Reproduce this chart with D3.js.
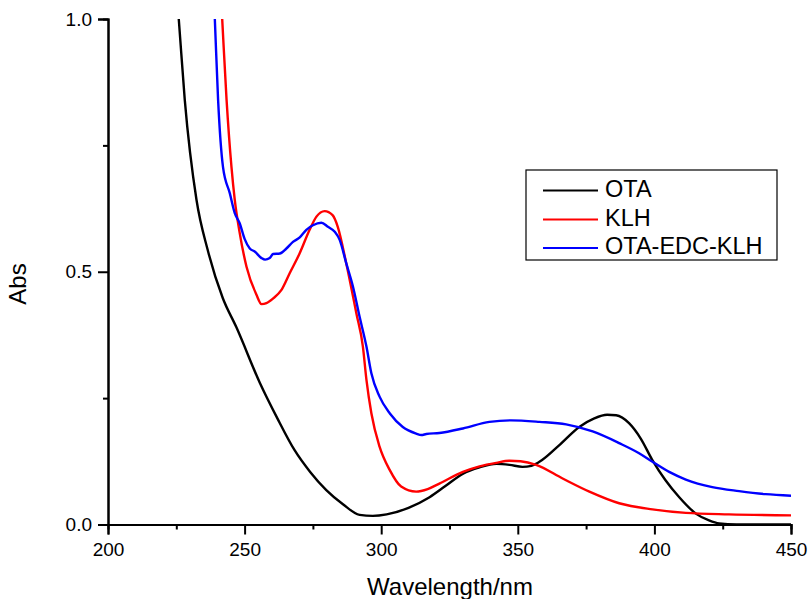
<!DOCTYPE html>
<html>
<head>
<meta charset="utf-8">
<script src="https://cdn.jsdelivr.net/npm/d3@7"></script>
<style>
  body { margin: 0; background: #fff; }
  text { font-family: Arial, "Liberation Sans", sans-serif; }
</style>
</head>
<body>
<div id="chart"></div>
<script>
// Spectra (wavelength in nm, absorbance)
const otaWl  = [222, 225.9, 228.1, 232.4, 236.5, 242.0, 247.0, 255.6, 262, 268.3, 274, 279.9, 286, 292.1, 296.9, 302, 310, 317.7, 323.5, 329.8, 336, 342.2, 347, 351.7, 355, 359, 365, 372.5, 378, 382.7, 386, 390.8, 395, 399.2, 404, 409.1, 415.3, 420, 423.7, 430, 450];
const otaAbs = [1.25, 1.0, 0.84, 0.642, 0.543, 0.448, 0.39, 0.28, 0.21, 0.147, 0.104, 0.068, 0.04, 0.019, 0.017, 0.02, 0.033, 0.054, 0.076, 0.10, 0.113, 0.12, 0.118, 0.114, 0.116, 0.128, 0.156, 0.193, 0.21, 0.217, 0.216, 0.2, 0.17, 0.128, 0.088, 0.054, 0.021, 0.008, 0.002, 0, 0];

const klhWl  = [240, 241.8, 243.4, 245.2, 246.4, 248.2, 250.7, 254.3, 256.2, 258, 260.4, 263.5, 266.5, 270.2, 273.8, 276.3, 279.3, 282.2, 284.1, 287.2, 290.9, 293.3, 294.6, 296.4, 299.4, 303.1, 307.3, 312.8, 317, 321.3, 329.9, 336, 342.1, 346.9, 351, 356.7, 366.4, 376.2, 387.1, 399.3, 411.5, 427.3, 450];
const klhAbs = [1.18, 1.0, 0.84, 0.707, 0.642, 0.577, 0.51, 0.455, 0.436, 0.438, 0.447, 0.464, 0.497, 0.537, 0.583, 0.609, 0.62, 0.612, 0.589, 0.517, 0.418, 0.352, 0.286, 0.22, 0.154, 0.108, 0.075, 0.065, 0.07, 0.081, 0.104, 0.115, 0.122, 0.126, 0.125, 0.118, 0.091, 0.065, 0.042, 0.030, 0.023, 0.020, 0.018];

const conjWl  = [237.5, 239.1, 240.3, 242.1, 244.6, 246.4, 248.2, 250, 251.9, 253.7, 256.2, 257.5, 259.2, 260.4, 262.9, 265.3, 267.7, 270.2, 272.6, 275.0, 278.1, 280.5, 283, 284.8, 287.2, 289.7, 292.1, 294.6, 296.4, 299.4, 303.1, 307.9, 312.8, 314.7, 316.5, 321.3, 329.9, 339.6, 347.5, 357.9, 367.7, 377.4, 387.1, 394.4, 399.3, 405.4, 411.5, 421.2, 431, 440.7, 450];
const conjAbs = [1.2, 1.0, 0.84, 0.707, 0.655, 0.616, 0.596, 0.565, 0.546, 0.540, 0.527, 0.524, 0.527, 0.535, 0.536, 0.546, 0.559, 0.568, 0.583, 0.592, 0.597, 0.589, 0.579, 0.563, 0.517, 0.470, 0.411, 0.352, 0.299, 0.253, 0.220, 0.193, 0.180, 0.177, 0.179, 0.181, 0.190, 0.203, 0.206, 0.203, 0.198, 0.184, 0.161, 0.141, 0.124, 0.104, 0.089, 0.074, 0.066, 0.060, 0.057];

const seriesNames  = ["OTA", "KLH", "OTA-EDC-KLH"];
const seriesColors = ["#000000", "#ff0000", "#0000ff"];
const xTicks = [200, 250, 300, 350, 400, 450];
const xMinor = [225, 275, 325, 375, 425];
const yTicks = [0.0, 0.5, 1.0];
const yMinor = [0.25, 0.75];

const series = [
  { name: seriesNames[0], color: seriesColors[0], values: otaWl.map((w, i) => ({ x: w, y: otaAbs[i] })) },
  { name: seriesNames[1], color: seriesColors[1], values: klhWl.map((w, i) => ({ x: w, y: klhAbs[i] })) },
  { name: seriesNames[2], color: seriesColors[2], values: conjWl.map((w, i) => ({ x: w, y: conjAbs[i] })) }
];

const width = 810, height = 599;
const margin = { top: 19, right: 19, bottom: 74.5, left: 108 };

const svg = d3.select("#chart")
  .append("svg")
  .attr("width", width)
  .attr("height", height);

const xScale = d3.scaleLinear()
  .domain([200, 450])
  .range([margin.left, width - margin.right]);

const yScale = d3.scaleLinear()
  .domain([0, 1])
  .range([height - margin.bottom, margin.top]);

// clip the curves to the plot area
svg.append("clipPath")
  .attr("id", "plot-clip")
  .append("rect")
  .attr("x", margin.left)
  .attr("y", margin.top)
  .attr("width", width - margin.right - margin.left)
  .attr("height", height - margin.bottom - margin.top);

const line = d3.line()
  .x(d => xScale(d.x))
  .y(d => yScale(d.y))
  .curve(d3.curveMonotoneX);

svg.append("g")
  .attr("clip-path", "url(#plot-clip)")
  .selectAll("path")
  .data(series)
  .enter()
  .append("path")
  .attr("d", d => line(d.values))
  .attr("fill", "none")
  .attr("stroke", d => d.color)
  .attr("stroke-width", 2.4)
  .attr("stroke-linejoin", "round");

// x axis: minor ticks first, then major ticks with labels
svg.append("g")
  .attr("transform", `translate(0,${height - margin.bottom})`)
  .call(d3.axisBottom(xScale).tickValues(xMinor).tickSize(5).tickFormat(""));
svg.append("g")
  .attr("transform", `translate(0,${height - margin.bottom})`)
  .call(d3.axisBottom(xScale).tickValues(xTicks).tickSize(10).tickPadding(8).tickFormat(d3.format("d")));

// y axis
svg.append("g")
  .attr("transform", `translate(${margin.left},0)`)
  .call(d3.axisLeft(yScale).tickValues(yMinor).tickSize(5).tickFormat(""));
svg.append("g")
  .attr("transform", `translate(${margin.left},0)`)
  .call(d3.axisLeft(yScale).tickValues(yTicks).tickSize(10).tickPadding(6).tickFormat(d3.format(".1f")));

svg.selectAll(".domain").attr("stroke", "#000").attr("stroke-width", 2);
svg.selectAll(".tick line").attr("stroke", "#000").attr("stroke-width", 2);
svg.selectAll(".tick text")
  .style("font-size", "19px")
  .style("font-family", "Arial, 'Liberation Sans', sans-serif")
  .attr("fill", "#000");

// axis titles
svg.append("text")
  .attr("x", 450)
  .attr("y", 589)
  .attr("dominant-baseline", "middle")
  .style("text-anchor", "middle")
  .style("font-size", "24px")
  .text("Wavelength/nm");

svg.append("text")
  .attr("transform", "translate(20,284) rotate(-90)")
  .attr("dominant-baseline", "middle")
  .style("text-anchor", "middle")
  .style("font-size", "24px")
  .text("Abs");

// legend
const legend = svg.append("g");
legend.append("rect")
  .attr("x", 526)
  .attr("y", 170)
  .attr("width", 251)
  .attr("height", 90)
  .attr("fill", "#fff")
  .attr("stroke", "#000")
  .attr("stroke-width", 1.2);

const rows = legend.selectAll("g.row")
  .data(series)
  .enter()
  .append("g")
  .attr("class", "row")
  .attr("transform", (d, i) => `translate(0,${[190.5, 219.5, 248][i]})`);

rows.append("line")
  .attr("x1", 543)
  .attr("x2", 598)
  .attr("stroke", d => d.color)
  .attr("stroke-width", 2.2);

rows.append("text")
  .attr("x", 605)
  .attr("dominant-baseline", "middle")
  .style("font-size", "23.5px")
  .text(d => d.name);
</script>
</body>
</html>
